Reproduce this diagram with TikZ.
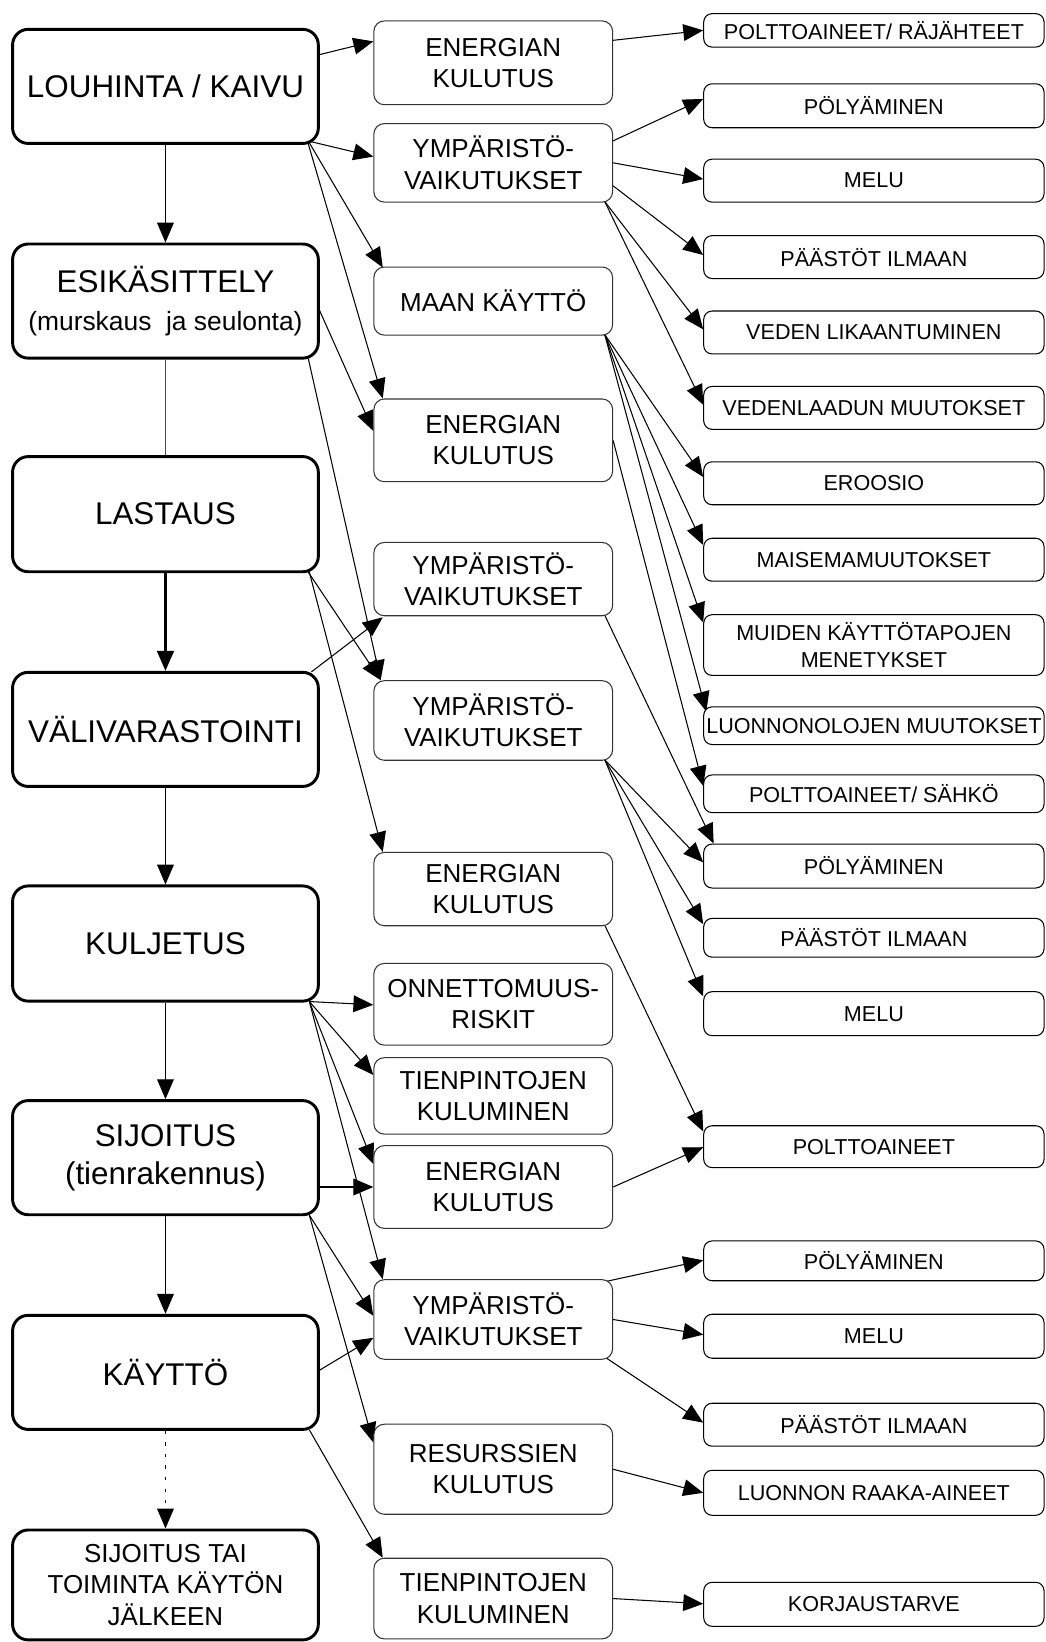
\documentclass[tikz,border=0pt]{standalone}
\usepackage{fontspec}
\setmainfont{Liberation Sans}
\usetikzlibrary{arrows.meta,calc}
\pgfdeclarelayer{bg}
\pgfsetlayers{bg,main}
\begin{document}
\begin{tikzpicture}[x=0.5pt,y=-0.5pt,
  lbox/.style={draw=black, line width=1.4pt, rounded corners=7.5pt, fill=white, minimum width=146pt, inner sep=0pt, align=center, font=\fontsize{15}{17}\selectfont},
  mbox/.style={draw=black!80, line width=0.5pt, rounded corners=5pt, fill=white, minimum width=114pt, inner sep=0pt, align=center, font=\fontsize{12.4}{15}\selectfont},
  rbox/.style={draw=black, line width=0.5pt, rounded corners=4pt, fill=white, minimum width=162.5pt, inner sep=0pt, align=center, font=\fontsize{10.3}{12.5}\selectfont},
  conn/.style={line width=0.5pt, -{Triangle[length=9.5pt,width=8pt]}},
]
\useasboundingbox (0,0) rectangle (998,1568);

% left column
\node[lbox, minimum height=54.5pt] (L1) at (158,82.5) {LOUHINTA / KAIVU};
\node[lbox, minimum height=54.5pt] (L2) at (158,287.5) {ESIKÄSITTELY\\[1pt]{\fontsize{12.6}{15}\selectfont (murskaus\ \ ja seulonta)}};
\node[lbox, minimum height=55pt] (L3) at (158,491) {LASTAUS};
\node[lbox, minimum height=54.5pt] (L4) at (158,696.5) {VÄLIVARASTOINTI};
\node[lbox, minimum height=55pt] (L5) at (158,901) {KULJETUS};
\node[lbox, minimum height=54.5pt] (L6) at (158,1105.5) {SIJOITUS\\[1.5pt](tienrakennus)};
\node[lbox, minimum height=54.5pt] (L7) at (158,1310.5) {KÄYTTÖ};
\node[lbox, minimum height=52.5pt, font=\fontsize{12.4}{15}\selectfont] (L8) at (158,1513.5) {SIJOITUS TAI\\TOIMINTA KÄYTÖN\\JÄLKEEN};

% middle column
\node[mbox, minimum height=40pt] (M1) at (471,60) {ENERGIAN\\KULUTUS};
\node[mbox, minimum height=37.5pt] (M2) at (471,155.5) {YMPÄRISTÖ-\\VAIKUTUKSET};
\node[mbox, minimum height=32.5pt] (M3) at (471,287.5) {MAAN KÄYTTÖ};
\node[mbox, minimum height=39.5pt] (M4) at (471,420.5) {ENERGIAN\\KULUTUS};
\node[mbox, minimum height=35pt] (M5) at (471,553) {YMPÄRISTÖ-\\VAIKUTUKSET};
\node[mbox, minimum height=38pt] (M6) at (471,688) {YMPÄRISTÖ-\\VAIKUTUKSET};
\node[mbox, minimum height=35pt] (M7) at (471,849) {ENERGIAN\\KULUTUS};
\node[mbox, minimum height=39pt] (M8) at (471,959) {ONNETTOMUUS-\\RISKIT};
\node[mbox, minimum height=36.5pt] (M9) at (471,1046.5) {TIENPINTOJEN\\KULUMINEN};
\node[mbox, minimum height=39.5pt] (M10) at (471,1133.5) {ENERGIAN\\KULUTUS};
\node[mbox, minimum height=38pt] (M11) at (471,1260) {YMPÄRISTÖ-\\VAIKUTUKSET};
\node[mbox, minimum height=43pt] (M12) at (471,1403) {RESURSSIEN\\KULUTUS};
\node[mbox, minimum height=38.5pt] (M13) at (471,1526.5) {TIENPINTOJEN\\KULUMINEN};

% right column
\node[rbox, minimum height=16pt] (R1) at (834.5,29) {POLTTOAINEET/ RÄJÄHTEET};
\node[rbox, minimum height=21pt] (R2) at (834.5,101) {PÖLYÄMINEN};
\node[rbox, minimum height=20.5pt] (R3) at (834.5,172.5) {MELU};
\node[rbox, minimum height=20.5pt] (R4) at (834.5,245.5) {PÄÄSTÖT ILMAAN};
\node[rbox, minimum height=20.5pt] (R5) at (834.5,317.5) {VEDEN LIKAANTUMINEN};
\node[rbox, minimum height=20.5pt] (R6) at (834.5,389.5) {VEDENLAADUN MUUTOKSET};
\node[rbox, minimum height=20.5pt] (R7) at (834.5,461.5) {EROOSIO};
\node[rbox, minimum height=20.5pt] (R8) at (834.5,534.5) {MAISEMAMUUTOKSET};
\node[rbox, minimum height=29pt] (R9) at (834.5,616) {MUIDEN KÄYTTÖTAPOJEN\\MENETYKSET};
\node[rbox, minimum height=18pt] (R10) at (834.5,693) {LUONNONOLOJEN MUUTOKSET};
\node[rbox, minimum height=18pt] (R11) at (834.5,758) {POLTTOAINEET/ SÄHKÖ};
\node[rbox, minimum height=21pt] (R12) at (834.5,827) {PÖLYÄMINEN};
\node[rbox, minimum height=18.5pt] (R13) at (834.5,895.5) {PÄÄSTÖT ILMAAN};
\node[rbox, minimum height=21pt] (R14) at (834.5,968) {MELU};
\node[rbox, minimum height=20pt] (R15) at (834.5,1095) {POLTTOAINEET};
\node[rbox, minimum height=19pt] (R16) at (834.5,1204) {PÖLYÄMINEN};
\node[rbox, minimum height=21pt] (R17) at (834.5,1276) {MELU};
\node[rbox, minimum height=20.5pt] (R18) at (834.5,1360.5) {PÄÄSTÖT ILMAAN};
\node[rbox, minimum height=21.5pt] (R19) at (834.5,1425.5) {LUONNON RAAKA-AINEET};
\node[rbox, minimum height=21pt] (R20) at (834.5,1532) {KORJAUSTARVE};

\begin{pgfonlayer}{bg}
% left vertical chain
\draw[conn] (L1) -- (L2);
\draw[line width=0.5pt, black!70] (L2) -- (L3);
\draw[conn, line width=1pt] (L3) -- (L4);
\draw[conn] (L4) -- (L5);
\draw[conn] (L5) -- (L6);
\draw[conn] (L6) -- (L7);
\draw[conn, dash pattern=on 1.5pt off 4pt] (L7) -- (L8);

% left -> middle
\draw[conn] ($(L1.north east)+(-2,26)$) -- ($(M1.north west)+(0,20)$);
\draw[conn] ($(L1.south east)+(-8,-3)$) -- ($(M2.north west)+(0,32)$);
\draw[conn] ($(L1.south east)+(-10,-2)$) -- ($(M3.north west)+(9,1)$);
\draw[conn] ($(L1.south east)+(-11,-1)$) -- ($(M4.north west)+(9,0)$);
\draw[conn] ($(L2.east)+(-2,5)$) -- ($(M4.north west)+(0,31)$);
\draw[conn] ($(L2.south east)+(-11,-1)$) -- ($(M6.north west)+(7,0)$);
\draw[conn] ($(L3.south east)+(-11,-1)$) -- ($(M6.north west)+(7,0)$);
\draw[conn] ($(L3.south east)+(-10,-1)$) -- ($(M7.north west)+(9,0)$);
\draw[conn] ($(L4.north east)+(-8,1)$) -- ($(M5.south west)+(9,1)$);
\draw[conn] ($(L5.south east)+(-10,-1)$) -- ($(M8.north west)+(0,40)$);
\draw[conn] ($(L5.south east)+(-10,-1)$) -- ($(M9.north west)+(0,17)$);
\draw[conn] ($(L5.south east)+(-10,-1)$) -- ($(M10.north west)+(0,18)$);
\draw[conn] ($(L5.south east)+(-10,-1)$) -- ($(M11.north west)+(9,0)$);
\draw[conn] ($(L6.east)+(-2,28)$) -- (M10.west);
\draw[conn] ($(L6.south east)+(-10,-1)$) -- ($(M11.north west)+(0,35)$);
\draw[conn] ($(L6.south east)+(-10,-1)$) -- ($(M12.north west)+(0,18)$);
\draw[conn] ($(L7.east)+(-2,-1)$) -- ($(M11.north west)+(0,56)$);
\draw[conn] ($(L7.south east)+(-10,-1)$) -- ($(M13.north west)+(9,0)$);

% middle -> right
\draw[conn] ($(M1.north east)+(0,19)$) -- (R1.west);
\draw[conn] ($(M2.north east)+(0,17)$) -- ($(R2.north west)+(0,15)$);
\draw[conn] (M2.east) -- ($(R3.north west)+(0,19.5)$);
\draw[conn] ($(M2.north east)+(0,60)$) -- ($(R4.north west)+(0,19)$);
\draw[conn] ($(M2.south east)+(-8,-1)$) -- ($(R5.north west)+(0,18)$);
\draw[conn] ($(M2.south east)+(-8,-1)$) -- ($(R6.north west)+(0,18)$);
\draw[conn] ($(M3.south east)+(-8,-1)$) -- ($(R7.north west)+(0,15)$);
\draw[conn] ($(M3.south east)+(-8,-1)$) -- ($(R8.north west)+(0,7)$);
\draw[conn] ($(M3.south east)+(-8,-1)$) -- ($(R9.north west)+(0,8)$);
\draw[conn] ($(M3.south east)+(-8,-1)$) -- ($(R10.north west)+(3,5)$);
\draw[conn] (M4.east) -- ($(R11.north west)+(0,11)$);
\draw[conn] ($(M5.south east)+(-8,-1)$) -- ($(R12.north west)+(10,0)$);
\draw[conn] ($(M6.south east)+(-8,-1)$) -- ($(R12.north west)+(0,18)$);
\draw[conn] ($(M6.south east)+(-8,-1)$) -- ($(R13.north west)+(0,6)$);
\draw[conn] ($(M6.south east)+(-8,-1)$) -- ($(R14.north west)+(0,5)$);
\draw[conn] ($(M7.south east)+(-8,-1)$) -- ($(R15.north west)+(0,6)$);
\draw[conn] (M10.east) -- ($(R15.north west)+(0,21)$);
\draw[conn] ($(M11.north east)+(-6,2)$) -- ($(R16.north west)+(0,19)$);
\draw[conn] (M11.east) -- ($(R17.north west)+(0,20)$);
\draw[conn] ($(M11.south east)+(-7,-2)$) -- ($(R18.north west)+(0,19)$);
\draw[conn] (M12.east) -- ($(R19.north west)+(0,22)$);
\draw[conn] (M13.east) -- ($(R20.north west)+(0,21)$);
\end{pgfonlayer}
\end{tikzpicture}
\end{document}
